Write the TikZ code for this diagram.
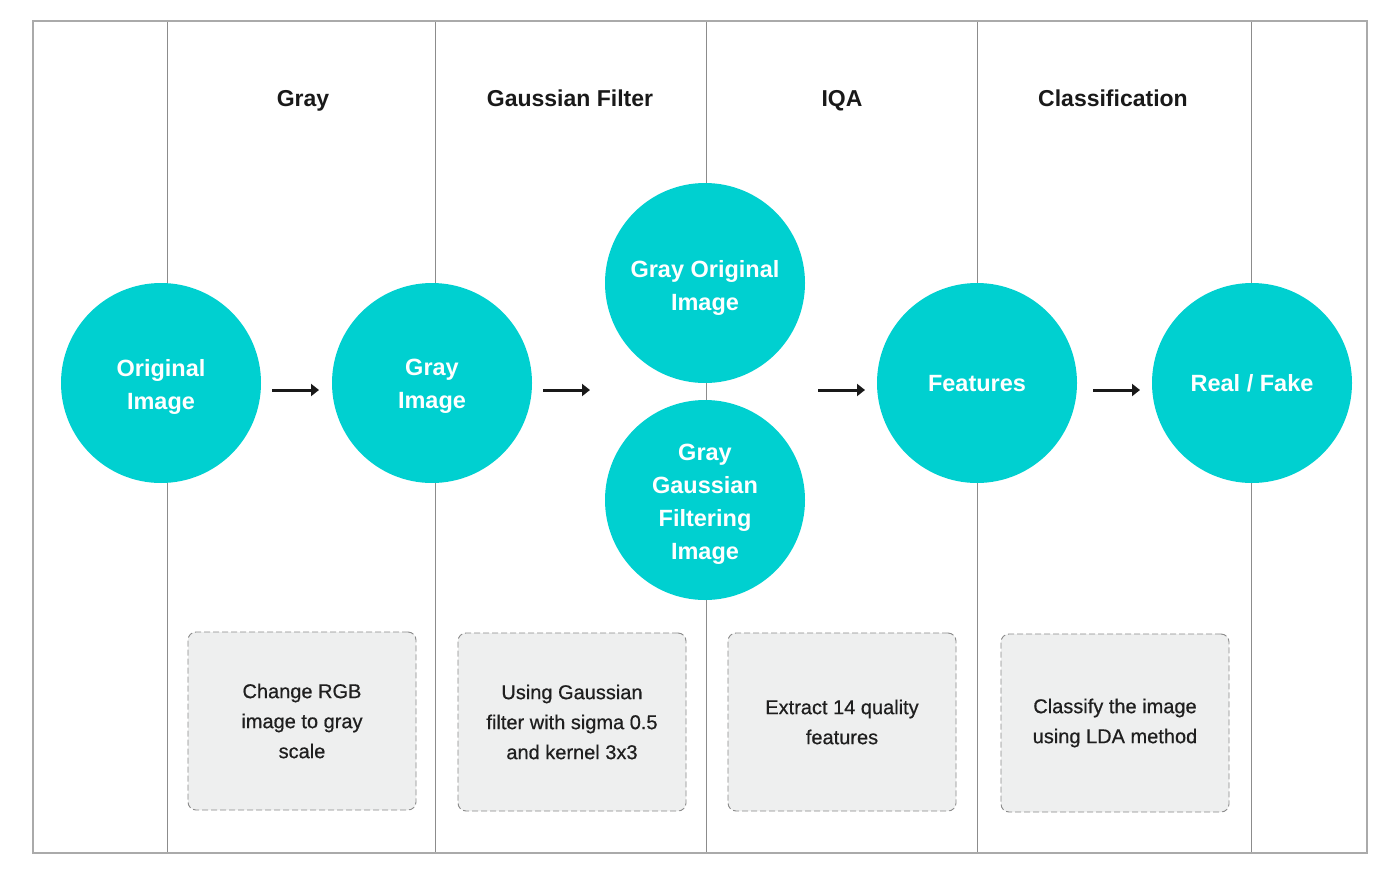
\documentclass[tikz,border=0pt]{standalone}
\usepackage{fontspec}
\setmainfont{Liberation Sans}
\newfontfamily\notefont[FakeBold=0.6]{Liberation Sans}
\usetikzlibrary{arrows.meta}
\definecolor{teal1}{HTML}{00D0D0}
\definecolor{boxfill}{HTML}{EEEFEF}
\definecolor{boxline}{HTML}{8A8A8A}
\definecolor{frameline}{HTML}{AAAAAA}
\definecolor{laneline}{HTML}{8C8C8C}
\tikzset{
  x=1pt, y=-1pt,
  stage/.style={circle, fill=teal1, minimum size=200pt, inner sep=0pt},
  stagetext/.style={text=white, inner sep=0pt, yshift=-3.5pt,
    font=\fontsize{23.5}{33}\selectfont\bfseries, align=center},
  header/.style={font=\fontsize{23}{28}\selectfont\bfseries, text=black!90, anchor=base},
  note/.style={draw=boxline, dashed, line width=0.9pt, dash pattern=on 6pt off 3pt, fill=boxfill, rounded corners=8pt,
    minimum width=228pt, minimum height=178pt, inner sep=0pt, align=center,
    font=\notefont\fontsize{20}{30}\selectfont, text=black!88},
  flow/.style={-{Triangle[length=8pt,width=12pt]}, line width=3pt, black!90},
  lane/.style={draw=laneline, line width=0.9pt},
}
\begin{document}
\begin{tikzpicture}
\useasboundingbox (0,0) rectangle (1400,878);
\fill[white] (0,0) rectangle (1400,878);
% lanes
\coordinate (l1t) at (167,21); \coordinate (l1b) at (167,853);
\coordinate (l2t) at (435,21); \coordinate (l2b) at (435,853);
\coordinate (l3t) at (706,21); \coordinate (l3b) at (706,853);
\coordinate (l4t) at (977,21); \coordinate (l4b) at (977,853);
\coordinate (l5t) at (1251,21); \coordinate (l5b) at (1251,853);
\draw[lane] (l1t) -- (l1b);
\draw[lane] (l2t) -- (l2b);
\draw[lane] (l3t) -- (l3b);
\draw[lane] (l4t) -- (l4b);
\draw[lane] (l5t) -- (l5b);
\draw[frameline, line width=1.5pt] (33,21) rectangle (1367,853);
% headers
\node[header] (h1) at (303,106) {Gray};
\node[header] (h2) at (570,106) {Gaussian Filter};
\node[header] (h3) at (842,106) {IQA};
\node[header] (h4) at (1113,106) {Classification};
% circles
\node[stage] (orig) at (161,383) {};
\node[stagetext] (origt) at (orig.center) {Original\\Image};
\node[stage] (gray) at (432,383) {};
\node[stagetext] (grayt) at (gray.center) {Gray\\Image};
\node[stage] (gorig) at (705,283) {};
\node[stagetext, yshift=-1pt] (gorigt) at (gorig.center) {Gray Original\\Image};
\node[stage] (gfilt) at (705,500) {};
\node[stagetext, yshift=-1pt] (gfiltt) at (gfilt.center) {Gray\\Gaussian\\Filtering\\Image};
\node[stage] (feat) at (977,383) {};
\node[stagetext, yshift=2.5pt] (featt) at (feat.center) {Features};
\node[stage] (rf) at (1252,383) {};
\node[stagetext, yshift=3.5pt] (rft) at (rf.center) {Real / Fake};
% arrows
\coordinate (a1s) at (272,390); \coordinate (a1e) at (319,390);
\coordinate (a2s) at (543,390); \coordinate (a2e) at (590,390);
\coordinate (a3s) at (818,390); \coordinate (a3e) at (865,390);
\coordinate (a4s) at (1093,390); \coordinate (a4e) at (1140,390);
\draw[flow] (a1s) -- (a1e);
\draw[flow] (a2s) -- (a2e);
\draw[flow] (a3s) -- (a3e);
\draw[flow] (a4s) -- (a4e);
% notes
\node[note] (n1) at (302,721) {Change RGB\\image to gray\\scale};
\node[note] (n2) at (572,722) {Using Gaussian\\filter with sigma 0.5\\and kernel 3x3};
\node[note] (n3) at (842,722) {Extract 14 quality\\features};
\node[note] (n4) at (1115,723) {Classify the image\\using LDA method};
\end{tikzpicture}
\end{document}
